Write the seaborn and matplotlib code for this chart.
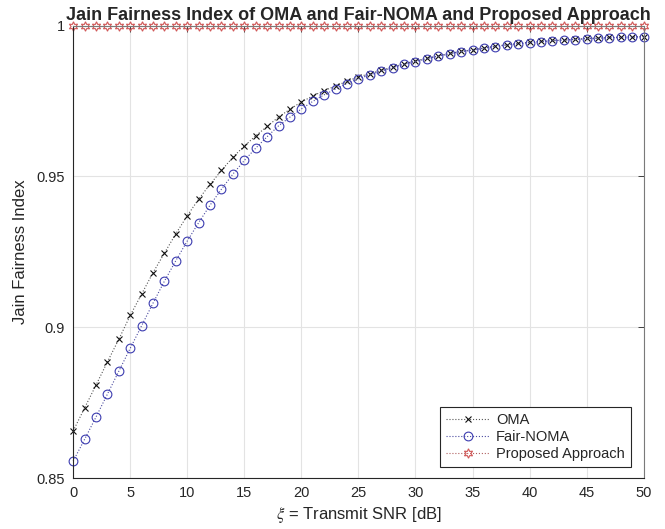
import numpy as np
import pandas as pd
import matplotlib
matplotlib.use("Agg")
import matplotlib.pyplot as plt
import seaborn as sns

# Transmit SNR [dB]
snr_db = list(range(0, 51))

# Jain fairness index
oma = [0.8656, 0.8732, 0.8808, 0.8885, 0.8960, 0.9039, 0.9110, 0.9181, 0.9246, 0.9310,
       0.9370, 0.9425, 0.9474, 0.9520, 0.9564, 0.9601, 0.9635, 0.9666, 0.9697, 0.9723,
       0.9747, 0.9767, 0.9785, 0.9800, 0.9816, 0.9830, 0.9841, 0.9852, 0.9863, 0.9874,
       0.9883, 0.9892, 0.9900, 0.9908, 0.9915, 0.9920, 0.9926, 0.9932, 0.9937, 0.9941,
       0.9945, 0.9948, 0.9951, 0.9953, 0.9955, 0.9958, 0.9959, 0.9961, 0.9962, 0.9963,
       0.9964]
fair_noma = [0.8556, 0.8628, 0.8702, 0.8778, 0.8854, 0.8930, 0.9005, 0.9080, 0.9153, 0.9221,
             0.9286, 0.9347, 0.9405, 0.9458, 0.9508, 0.9553, 0.9594, 0.9632, 0.9668, 0.9697,
             0.9724, 0.9749, 0.9771, 0.9790, 0.9808, 0.9824, 0.9837, 0.9849, 0.9861, 0.9872,
             0.9881, 0.9891, 0.9899, 0.9907, 0.9914, 0.9919, 0.9925, 0.9931, 0.9936, 0.9940,
             0.9944, 0.9947, 0.9950, 0.9952, 0.9954, 0.9957, 0.9958, 0.9960, 0.9961, 0.9962,
             0.9963]
proposed = [1.0, 1.0, 1.0, 1.0, 1.0, 1.0, 1.0, 1.0, 1.0, 1.0,
            1.0, 1.0, 1.0, 1.0, 1.0, 1.0, 1.0, 1.0, 1.0, 1.0,
            1.0, 1.0, 1.0, 1.0, 1.0, 1.0, 1.0, 1.0, 1.0, 1.0,
            1.0, 1.0, 1.0, 1.0, 1.0, 1.0, 1.0, 1.0, 1.0, 1.0,
            1.0, 1.0, 1.0, 1.0, 1.0, 1.0, 1.0, 1.0, 1.0, 1.0,
            1.0]

x_ticks = [0, 5, 10, 15, 20, 25, 30, 35, 40, 45, 50]
y_ticks = [0.85, 0.9, 0.95, 1.0]
y_tick_labels = ["0.85", "0.9", "0.95", "1"]

sns.set_style("white")
plt.rcParams['font.family'] = ['Liberation Sans', 'DejaVu Sans']
plt.rcParams['mathtext.fontset'] = 'stix'

fig = plt.figure(figsize=(6.65, 5.29), dpi=100)
ax = fig.add_axes([0.110, 0.0964, 0.858, 0.855])

# OMA
sns.lineplot(x=snr_db, y=oma, ax=ax, color='#555555', linestyle=':', linewidth=0.8,
             marker='x', markersize=5, markeredgecolor='#111111', markeredgewidth=0.8,
             label='OMA', clip_on=False)
# Fair-NOMA
sns.lineplot(x=snr_db, y=fair_noma, ax=ax, color='#4a4aa0', linestyle=':', linewidth=0.8,
             marker='o', markersize=6.3, markerfacecolor='none', markeredgecolor='#3c3cb0',
             markeredgewidth=0.8, label='Fair-NOMA', clip_on=False)
# Proposed approach
sns.lineplot(x=snr_db, y=proposed, ax=ax, color='#b06060', linestyle=':', linewidth=0.8,
             marker=(6, 1, 0), markersize=6.8, markerfacecolor='none', markeredgecolor='#d05858',
             markeredgewidth=0.8, label='Proposed Approach', clip_on=False)

ax.set_xlim(0, 50)
ax.set_ylim(0.85, 1.0)
ax.set_xticks(x_ticks)
ax.set_yticks(y_ticks)
ax.set_yticklabels(y_tick_labels)
ax.grid(True, color='#e3e3e3', linewidth=0.8)
ax.set_axisbelow(True)

for side in ['left', 'bottom']:
    ax.spines[side].set_color('#262626')
    ax.spines[side].set_linewidth(0.8)
for side in ['right', 'top']:
    ax.spines[side].set_color('#7a7a7a')
    ax.spines[side].set_linewidth(0.8)

ax.tick_params(direction='in', length=4, width=0.6, color='#262626',
               top=True, right=True, labelsize=10.5, labelcolor='#262626', pad=6)

ax.set_xlabel(r'$\xi$ = Transmit SNR [dB]', fontsize=12, color='#262626', labelpad=3)
ax.set_ylabel('Jain Fairness Index', fontsize=12, color='#262626', labelpad=6)
ax.set_title('Jain Fairness Index of OMA and Fair-NOMA and Proposed Approach',
             fontsize=13, fontweight='bold', pad=4)

leg = ax.legend(loc='lower right', bbox_to_anchor=(0.977, 0.024), fontsize=10.5,
                frameon=True, fancybox=False, edgecolor='#262626', framealpha=1,
                borderpad=0.4, labelspacing=0.23, handlelength=3.0, handletextpad=0.45,
                borderaxespad=0.0)
leg.get_frame().set_linewidth(0.8)

fig.savefig('out.png', dpi=100)
